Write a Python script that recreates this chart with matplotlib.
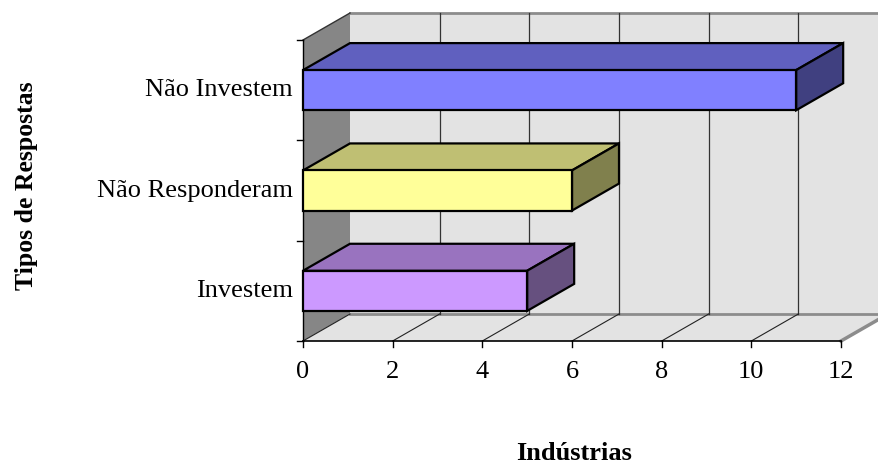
import matplotlib
matplotlib.use("Agg")
import matplotlib.pyplot as plt
from matplotlib.patches import Polygon
from matplotlib.lines import Line2D
from matplotlib.transforms import IdentityTransform

# Data
categories = ["Investem", "Não Responderam", "Não Investem"]
values = [5, 6, 11]
x_ticks = [0, 2, 4, 6, 8, 10, 12]
front_colors = ["#CC99FF", "#FFFF99", "#8080FF"]
top_colors = ["#9973BF", "#BFBF73", "#6060BF"]
side_colors = ["#66507F", "#80804D", "#404080"]

W, H, DPI = 879, 468, 100
fig = plt.figure(figsize=(W / DPI, H / DPI), dpi=DPI)
ax = fig.add_axes([303 / W, 1 - 341 / H, 538 / W, 301 / H])
ax.set_xlim(0, 12)
ax.set_ylim(-0.5, 2.5)
ax.axis("off")

serif = ["Liberation Serif", "DejaVu Serif"]
DX, DY = 47, 27          # depth offset of the 3D box in pixels
BAR_HALF = 0.2           # half height of a bar in category units
ident = IdentityTransform()


def P(v, c, d=0.0):
    """Display position of value v, category coordinate c, depth d (0 front, 1 back)."""
    x, y = ax.transData.transform((v, c))
    return (x + d * DX, y + d * DY)


def poly(pts, fc, ec="none", lw=0.0, z=1):
    ax.add_patch(Polygon(pts, closed=True, facecolor=fc, edgecolor=ec,
                         linewidth=lw, transform=ident, clip_on=False,
                         zorder=z, joinstyle="miter"))


def line(p0, p1, color, lw, z=2):
    ax.add_line(Line2D([p0[0], p1[0]], [p0[1], p1[1]], color=color,
                       linewidth=lw, transform=ident, clip_on=False, zorder=z))


y0, y1 = -0.5, 2.5
xmin, xmax = x_ticks[0], x_ticks[-1]

# Back wall
poly([P(xmin, y0, 1), P(xmax, y0, 1), P(xmax, y1, 1), P(xmin, y1, 1)], "#E3E3E3", z=1)
line(P(xmin, y1, 1), P(xmax, y1, 1), "#8C8C8C", 2.0, z=2)
# Left side wall
poly([P(xmin, y0, 0), P(xmin, y0, 1), P(xmin, y1, 1), P(xmin, y1, 0)], "#868686", z=1)
line(P(xmin, y1, 0), P(xmin, y1, 1), "#333333", 1.0, z=2)
# Floor
poly([P(xmin, y0, 0), P(xmax, y0, 0), P(xmax, y0, 1), P(xmin, y0, 1)], "#E3E3E3", z=1)
line(P(xmin, y0, 1), P(xmax, y0, 1), "#8C8C8C", 2.0, z=2)
line(P(xmax, y0, 0), P(xmax, y0, 1), "#8C8C8C", 2.5, z=2)

# Gridlines on the back wall and the floor
for v in x_ticks:
    if v > xmin:
        line(P(v, y0, 1), P(v, y1, 1), "#333333", 0.9, z=2)
    if v < xmax:
        line(P(v, y0, 0), P(v, y0, 1), "#222222", 0.8, z=2)

# Axis lines and ticks
line(P(xmin, y0, 0), P(xmax, y0, 0), "black", 1.2, z=3)
line(P(xmin, y0, 0), P(xmin, y1, 0), "black", 1.0, z=3)
for v in x_ticks:
    px, py = P(v, y0, 0)
    line((px, py), (px, py - 6), "black", 1.0, z=3)
    ax.text(px, py - 31, str(v), transform=ident, ha="center", va="center",
            fontsize=19, family=serif)
for c in [y0, 0.5, 1.5, y1]:
    px, py = P(xmin, c, 0)
    line((px, py), (px - 6, py), "black", 1.0, z=3)

# Bars (front, top and side faces)
for i, (cat, val) in enumerate(zip(categories, values)):
    b, t = i - BAR_HALF, i + BAR_HALF
    ew = 1.6
    poly([P(0, t, 0), P(val, t, 0), P(val, t, 1), P(0, t, 1)],
         top_colors[i], "black", ew, z=5)
    poly([P(val, b, 0), P(val, b, 1), P(val, t, 1), P(val, t, 0)],
         side_colors[i], "black", ew, z=5)
    poly([P(0, b, 0), P(val, b, 0), P(val, t, 0), P(0, t, 0)],
         front_colors[i], "black", ew, z=6)
    px, py = P(xmin, i, 0)
    ax.text(px - 10, py, cat, transform=ident, ha="right", va="center",
            fontsize=19, family=serif)

# Axis titles
fig.text(27 / W, 1 - 186 / H, "Tipos de Respostas", rotation=90, ha="center",
         va="center", fontsize=18.5, fontweight="bold", family=serif)
fig.text(574 / W, 1 - 454 / H, "Indústrias", ha="center", va="center",
         fontsize=19, fontweight="bold", family=serif)

fig.savefig("out.png", dpi=DPI)
